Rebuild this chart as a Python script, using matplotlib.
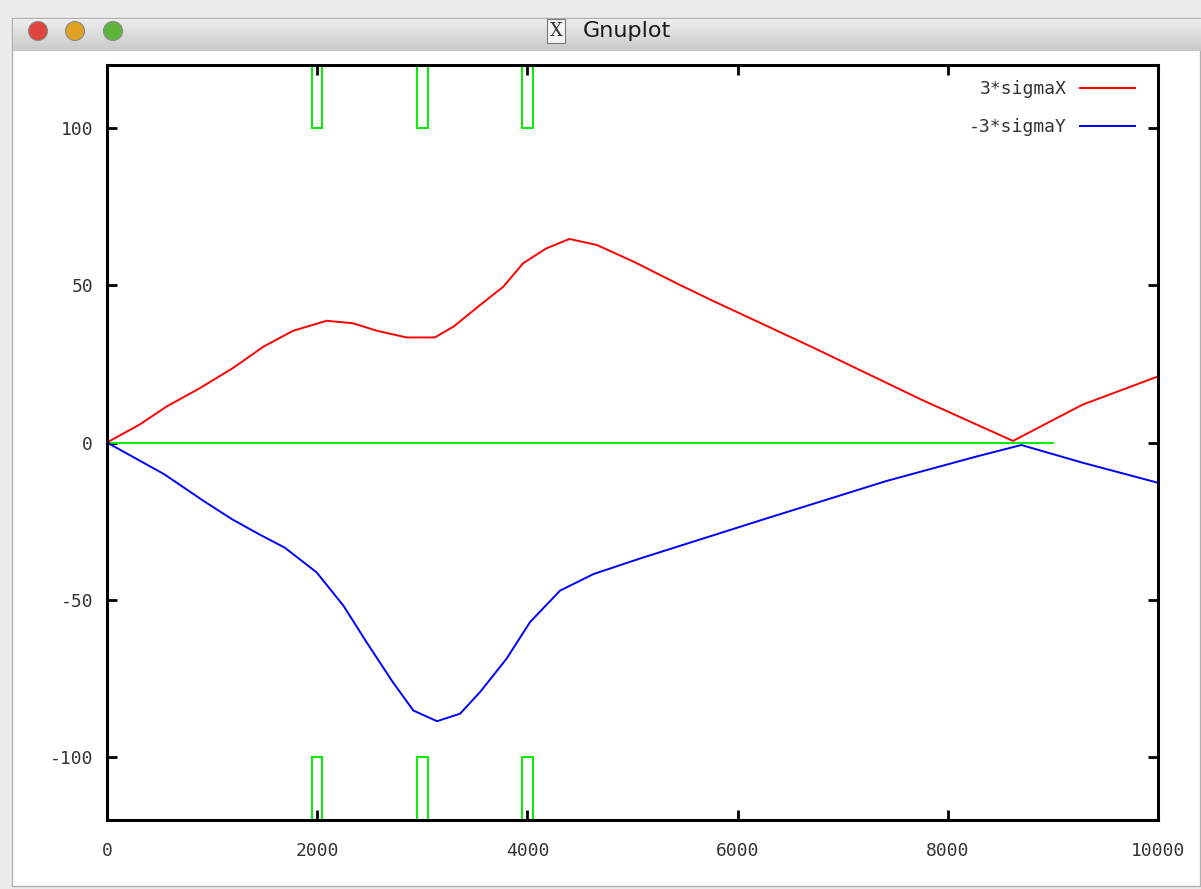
import numpy as np
import matplotlib.pyplot as plt
from matplotlib.patches import Rectangle, Circle

plt.rcParams['axes.unicode_minus'] = False

# values read from the gnuplot window
sigx_pos = [0, 310, 570, 885, 1200, 1490, 1770, 2090, 2340, 2570, 2850, 3120,
            3300, 3550, 3770, 3960, 4180, 4400, 4660, 5010, 5450, 5780, 6730,
            7750, 8620, 9280, 10000]
sigx_val = [0, 5.7, 11.5, 17.3, 23.7, 30.5, 35.5, 38.7, 37.9, 35.5, 33.4, 33.4,
            36.9, 43.7, 49.5, 57.0, 61.7, 64.7, 62.8, 57.5, 50.1, 44.8, 30.0,
            13.6, 0.5, 12.0, 21.0]
sigy_pos = [0, 545, 920, 1190, 1455, 1690, 1995, 2250, 2470, 2720, 2915, 3140,
            3360, 3550, 3800, 4025, 4310, 4630, 5070, 6250, 7410, 8290, 8700,
            9280, 10000]
sigy_val = [0, -10.1, -18.6, -24.4, -29.3, -33.4, -41.3, -51.9, -63.5, -76.2,
            -85.2, -88.6, -86.2, -79.3, -68.8, -57.1, -47.1, -41.8, -36.9,
            -24.4, -12.3, -4.3, -0.8, -6.4, -12.8]
zero_line_x = [0, 9000]
zero_line_y = [0, 0]
box_centers = [2000, 3000, 4000]
box_width = 100
xticks = [0, 2000, 4000, 6000, 8000, 10000]
yticks = [-100, -50, 0, 50, 100]

W, H = 1201, 889
fig = plt.figure(figsize=(W / 100, H / 100), dpi=100)
fig.patch.set_facecolor('#ececec')

def fr(x, y, w, h):
    # pixel box (top-left origin) -> figure fraction
    return (x / W, 1 - (y + h) / H, w / W, h / H)

# window body
body = Rectangle(fr(12, 18, 1200, 868)[:2], 1188 / W, 868 / H,
                 transform=fig.transFigure, facecolor='white',
                 edgecolor='#b0b0b0', linewidth=1, zorder=-10)
fig.patches.append(body)
body.set_figure(fig)

# title bar gradient
tb = fig.add_axes(fr(13, 19, 1188, 32))
grad = np.linspace(0.93, 0.79, 64).reshape(-1, 1)
tb.imshow(grad, cmap='gray', vmin=0, vmax=1, aspect='auto', extent=(0, 1, 0, 1))
tb.axis('off')

for cx, col in zip([38, 75, 113], ['#e0443e', '#dea123', '#5fb53c']):
    c = Circle((cx / 100, (H - 31) / 100), 0.095,
               transform=fig.dpi_scale_trans,
               facecolor=col, edgecolor='#8a8a8a', linewidth=0.8, zorder=5)
    fig.add_artist(c)

fig.text(556 / W, 1 - 31 / H, 'X', ha='center', va='center', fontsize=13,
         family='DejaVu Serif', color='#333333', zorder=5,
         bbox=dict(boxstyle='square,pad=0.15', facecolor='#f4f4f4',
                   edgecolor='#777777', linewidth=0.8))
fig.text(583 / W, 1 - 31 / H, 'Gnuplot', ha='left', va='center', fontsize=16,
         family='DejaVu Sans', color='#1a1a1a', zorder=5)

# plot area
ax = fig.add_axes(fr(107, 65, 1051, 755))
ax.set_xlim(0, 10000)
ax.set_ylim(-120, 120)

ax.bar(box_centers, [20] * 3, width=box_width, bottom=100, fill=False,
       edgecolor='#00ee00', linewidth=1.4)
ax.bar(box_centers, [20] * 3, width=box_width, bottom=-120, fill=False,
       edgecolor='#00ee00', linewidth=1.4)
ax.plot(zero_line_x, zero_line_y, color='#00ee00', linewidth=1.4)
l1, = ax.plot(sigx_pos, sigx_val, color='#ff0000', linewidth=1.4, label='3*sigmaX')
l2, = ax.plot(sigy_pos, sigy_val, color='#0000ff', linewidth=1.4, label='-3*sigmaY')

ax.set_xticks(xticks)
ax.set_yticks(yticks)
ax.tick_params(direction='in', length=7, width=2, top=True, right=True,
               labelsize=13, labelcolor='#333333')
ax.tick_params(axis='x', pad=16)
ax.tick_params(axis='y', pad=10)
for lab in ax.get_xticklabels() + ax.get_yticklabels():
    lab.set_family('DejaVu Sans Mono')
for s in ax.spines.values():
    s.set_linewidth(2.2)

# gnuplot key: text right-aligned, sample line to its right
# one legend per entry so both texts share the same right edge
key_x = (1135 - 107) / 1051
entries = [(l1, 89), (l2, 127)]
for i, (line, ypx) in enumerate(entries):
    leg = ax.legend(handles=[line], loc='center right', frameon=False,
                    markerfirst=False, handlelength=3.05, handletextpad=0.72,
                    borderpad=0, borderaxespad=0,
                    bbox_to_anchor=(key_x, (820 - ypx) / 755),
                    prop={'family': 'DejaVu Sans Mono', 'size': 13})
    leg.get_texts()[0].set_color('#333333')
    if i < len(entries) - 1:
        ax.add_artist(leg)

fig.savefig('out.png', dpi=100)
